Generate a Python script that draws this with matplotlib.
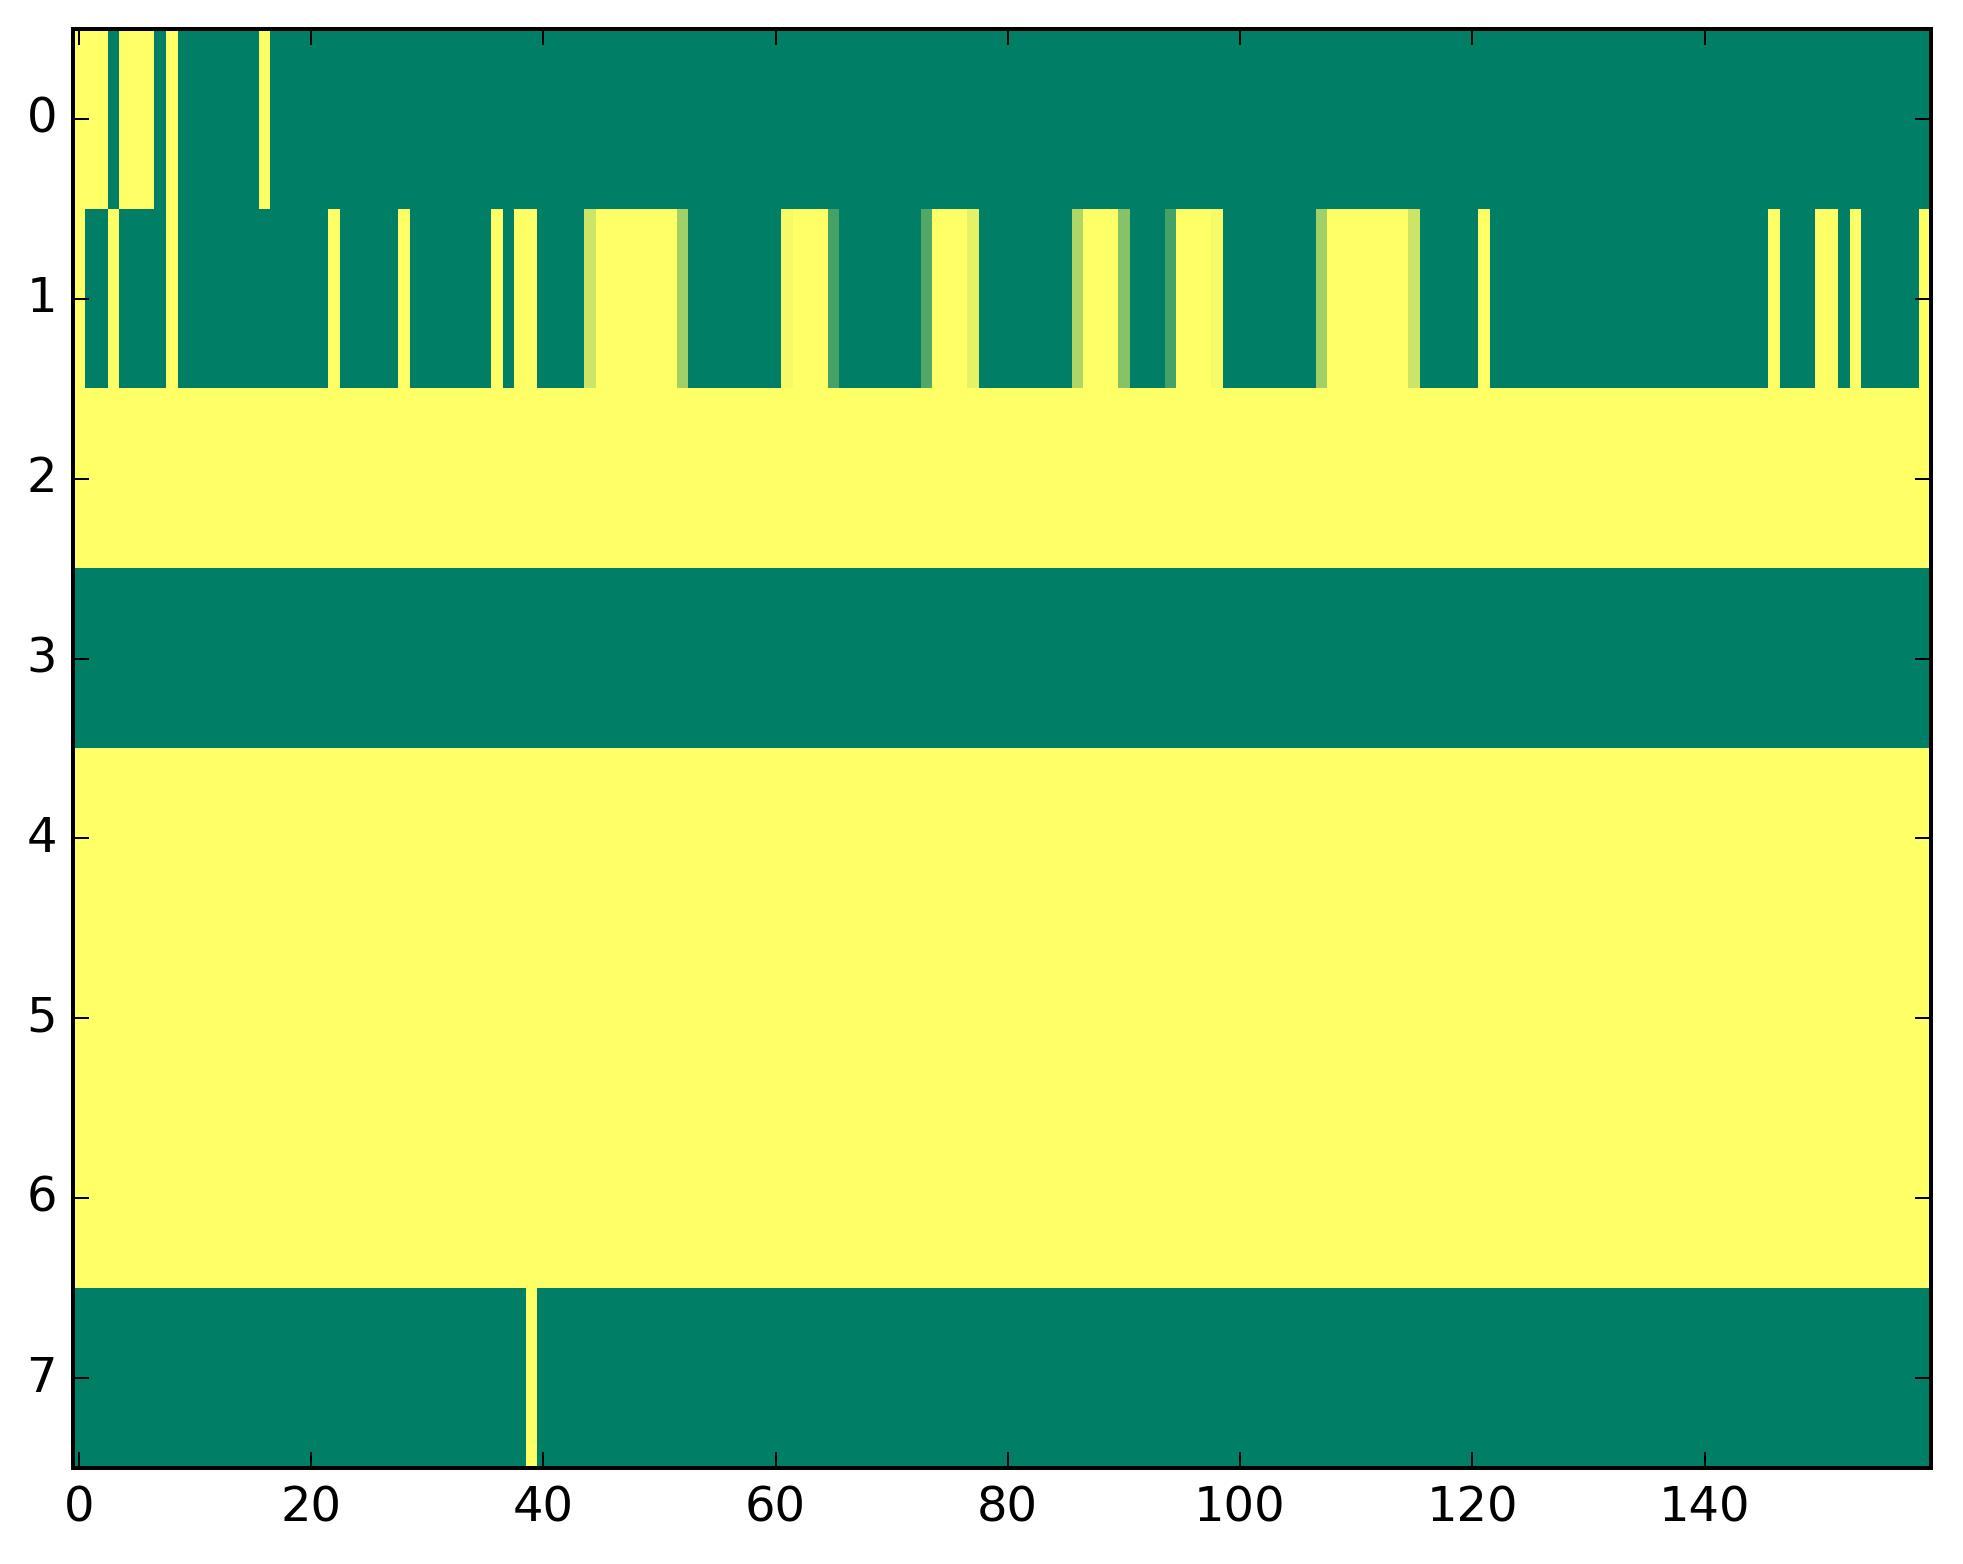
import numpy as np
import matplotlib
matplotlib.use("Agg")
import matplotlib.pyplot as plt

n_cols = 160
n_rows = 8

# columns that are "on" (value 1) in each row
row0_on = [0, 1, 2, 4, 5, 6, 8, 16]
row1_on = [0, 3, 8, 22, 28, 36, 38, 39,
           45, 46, 47, 48, 49, 50, 51,
           62, 63, 64, 74, 75, 76, 87, 88, 89, 95, 96, 97,
           108, 109, 110, 111, 112, 113, 114,
           121, 146, 150, 151, 153, 159]
# partial values in row 1 (column -> value)
row1_partial = {44: 0.80, 52: 0.63, 61: 0.96, 65: 0.27, 73: 0.32, 77: 0.90,
                86: 0.69, 90: 0.53, 94: 0.27, 98: 0.96, 107: 0.63, 115: 0.80}
row2_value = 1.0
row3_value = 0.0
row4_value = 1.0
row5_value = 1.0
row6_value = 1.0
row7_on = [39]

data = np.zeros((n_rows, n_cols))
data[0, row0_on] = 1.0
data[1, row1_on] = 1.0
for c, v in row1_partial.items():
    data[1, c] = v
data[2, :] = row2_value
data[3, :] = row3_value
data[4, :] = row4_value
data[5, :] = row5_value
data[6, :] = row6_value
data[7, row7_on] = 1.0

plt.style.use("classic")
dpi = 288
W, H = 1963, 1564
fig = plt.figure(figsize=(W / dpi, H / dpi), dpi=dpi)
ax = fig.add_axes([73 / W, 1 - 1468 / H, (1931 - 73) / W, (1468 - 29) / H])
ax.imshow(data, cmap="summer", aspect="auto", interpolation="nearest")
ax.set_xlim(-0.5, n_cols - 0.5)
ax.set_ylim(n_rows - 0.5, -0.5)
ax.set_xticks(np.arange(0, 141, 20))
ax.set_yticks(np.arange(0, 8))
fig.savefig("out.png", dpi=dpi)
